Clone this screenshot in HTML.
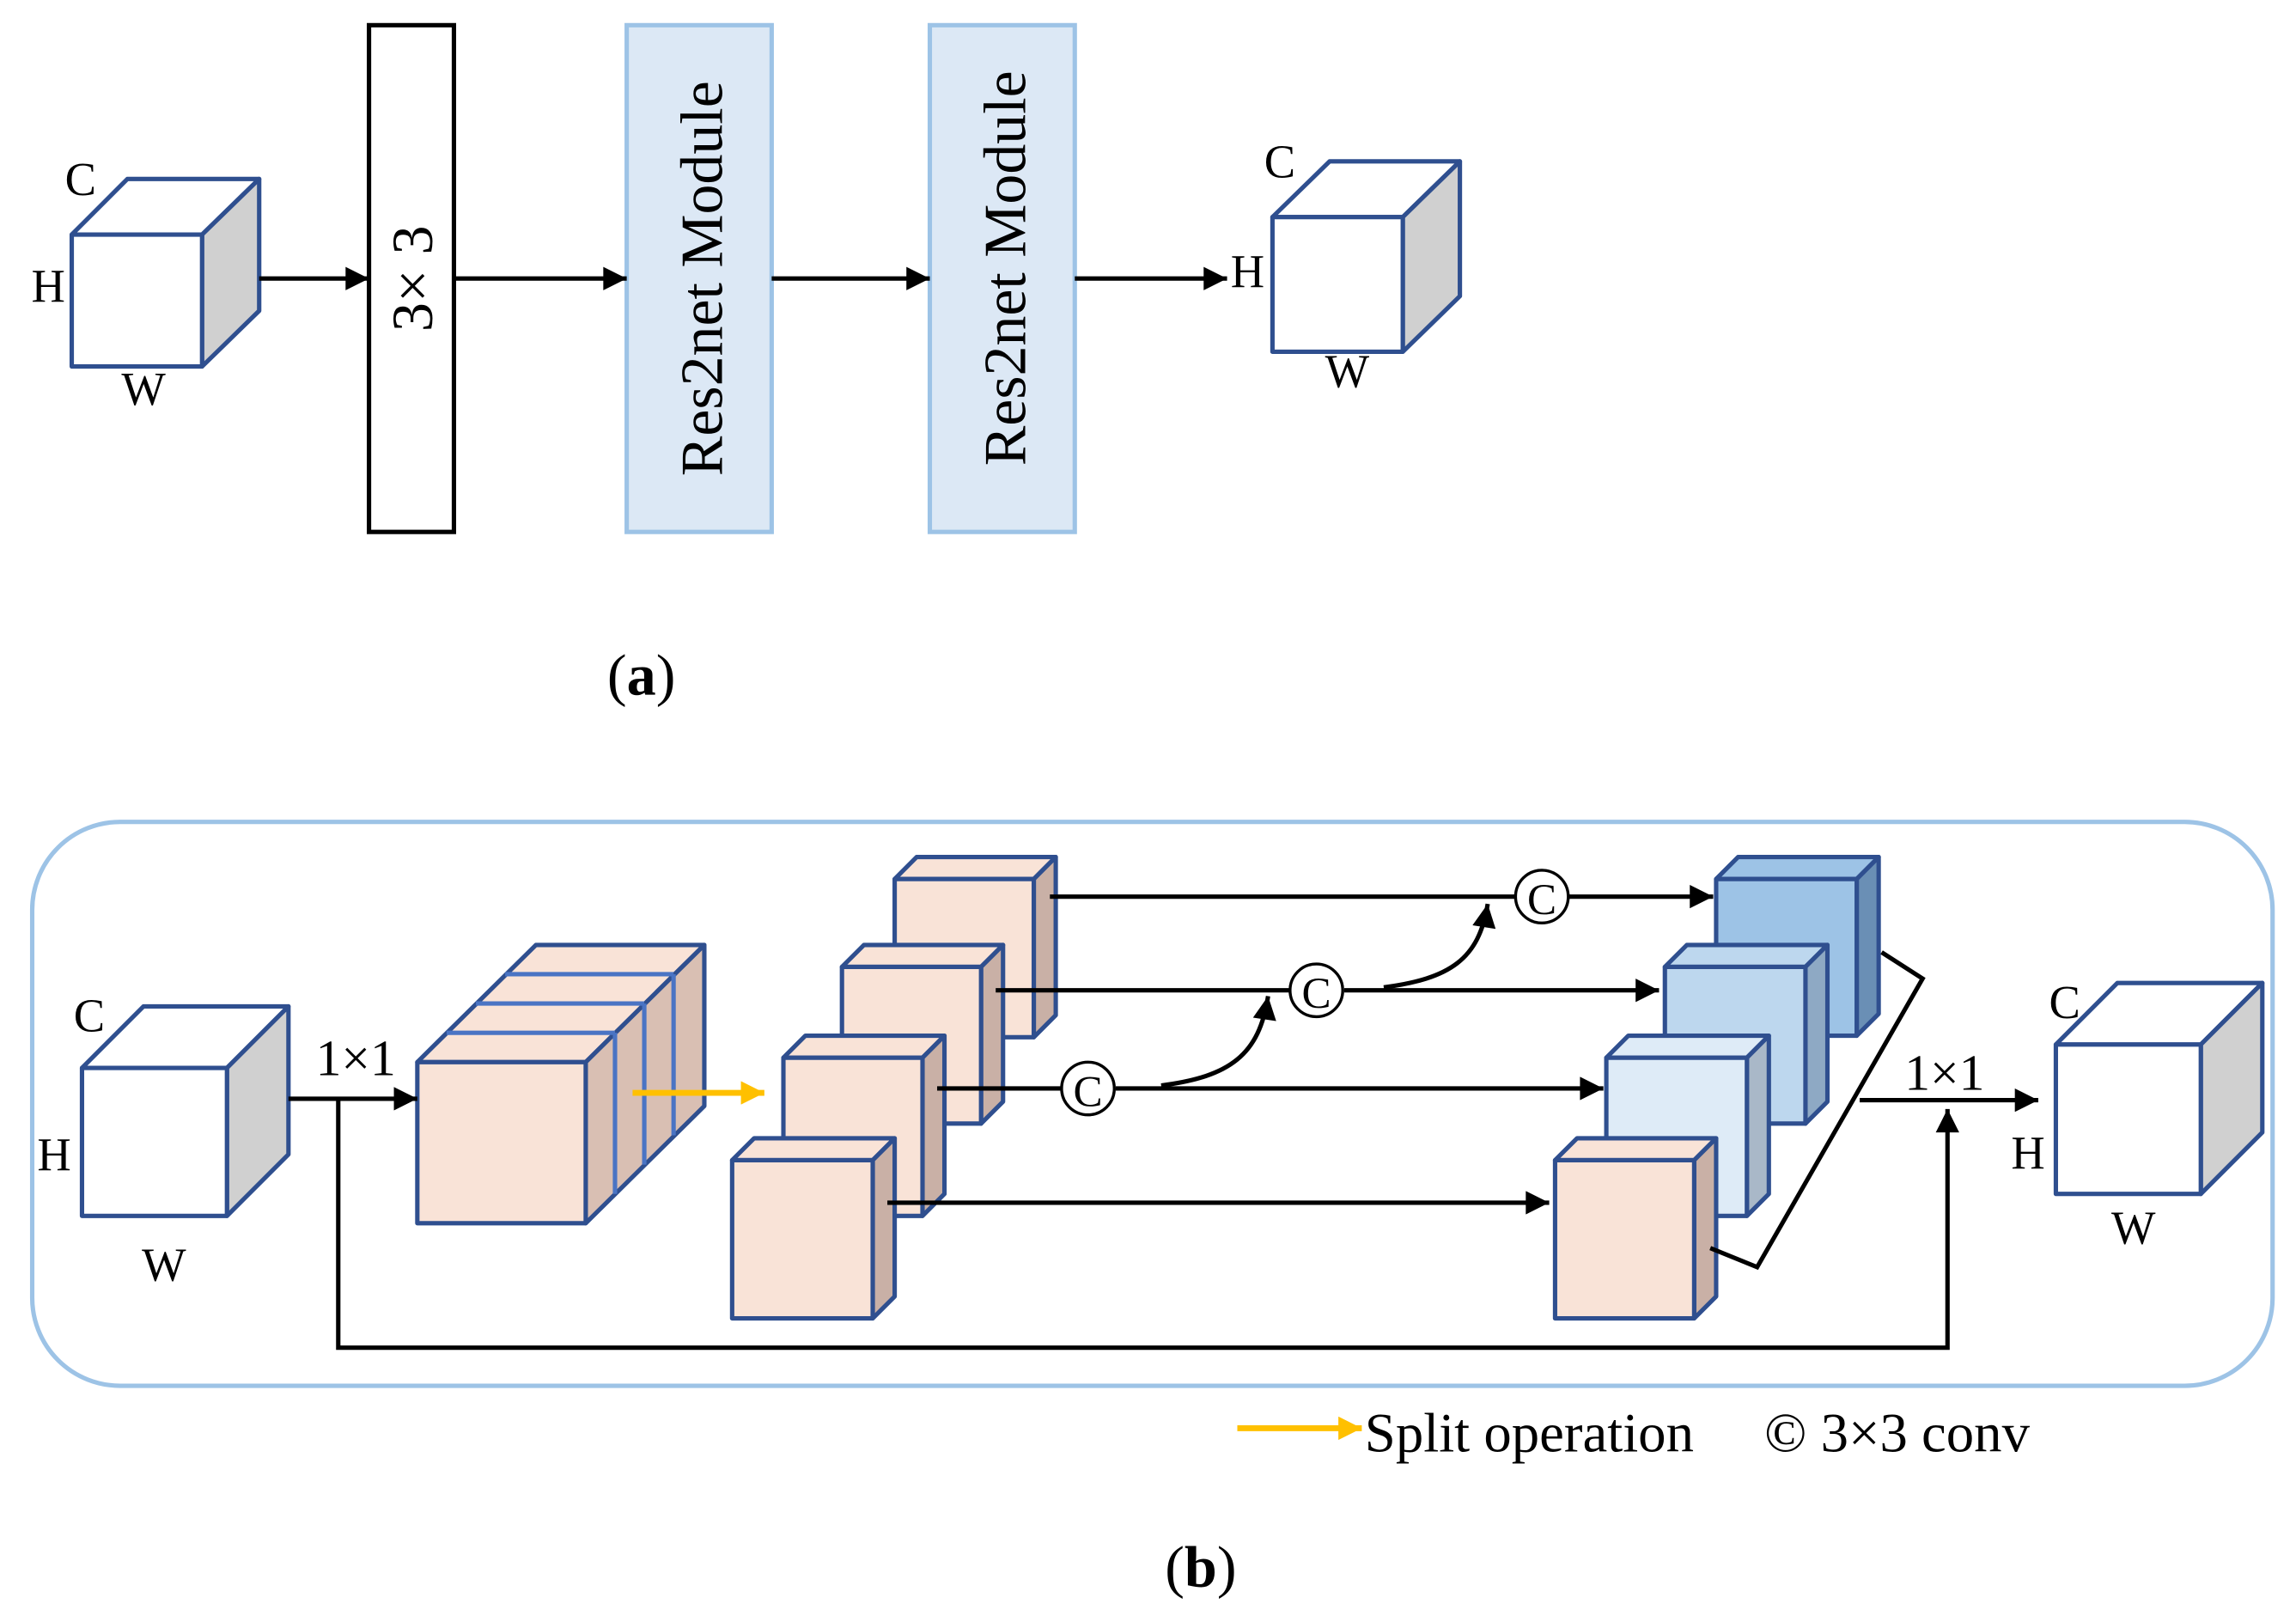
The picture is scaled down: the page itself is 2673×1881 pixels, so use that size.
<!DOCTYPE html>
<html><head><style>
html,body{margin:0;padding:0;background:#fff;}
svg{display:block;}
text{font-family:"Liberation Serif",serif;fill:#000;}
</style></head><body>
<svg width="2673" height="1881" viewBox="0 0 1568 1103" xmlns="http://www.w3.org/2000/svg">
<defs>
<marker id="ab" viewBox="0 0 10 10" markerWidth="20" markerHeight="16" refX="10" refY="5" orient="auto" markerUnits="userSpaceOnUse"><path d="M0,0 L10,5 L0,10 z" fill="#000"/></marker>
<marker id="ay" viewBox="0 0 10 10" markerWidth="20" markerHeight="16" refX="10" refY="5" orient="auto" markerUnits="userSpaceOnUse"><path d="M0,0 L10,5 L0,10 z" fill="#ffc000"/></marker>
</defs>
<g stroke="#2f4f8f" stroke-width="3" stroke-linejoin="round">
<polygon points="49,160 87,122 177,122 138,160" fill="#fff"/>
<polygon points="138,160 177,122 177,212 138,250" fill="#d0d0d0"/>
<rect x="49" y="160" width="89" height="90" fill="#fff"/>
<polygon points="869,148 908,110 997,110 958,148" fill="#fff"/>
<polygon points="958,148 997,110 997,202 958,240" fill="#d0d0d0"/>
<rect x="869" y="148" width="89" height="92" fill="#fff"/>
</g>
<text x="55" y="133" font-size="32" text-anchor="middle">C</text>
<text x="33" y="206" font-size="32" text-anchor="middle">H</text>
<text x="98" y="276" font-size="32" text-anchor="middle">W</text>
<text x="874" y="121" font-size="32" text-anchor="middle">C</text>
<text x="852" y="196" font-size="32" text-anchor="middle">H</text>
<text x="920" y="264" font-size="32" text-anchor="middle">W</text>
<rect x="252" y="17" width="58" height="346" fill="#fff" stroke="#000" stroke-width="3"/>
<text transform="translate(295,190) rotate(-90)" font-size="40" text-anchor="middle">3× 3</text>
<rect x="428" y="17" width="99" height="346" fill="#dce8f5" stroke="#9dc3e6" stroke-width="3"/>
<text transform="translate(493,190) rotate(-90)" font-size="41" text-anchor="middle">Res2net Module</text>
<rect x="635" y="17" width="99" height="346" fill="#dce8f5" stroke="#9dc3e6" stroke-width="3"/>
<text transform="translate(700,183) rotate(-90)" font-size="41" text-anchor="middle">Res2net Module</text>
<g stroke="#000" stroke-width="3" marker-end="url(#ab)">
<line x1="177" y1="190" x2="252" y2="190"/>
<line x1="310" y1="190" x2="428" y2="190"/>
<line x1="527" y1="190" x2="635" y2="190"/>
<line x1="734" y1="190" x2="838" y2="190"/>
</g>
<text x="438" y="474" font-size="40" text-anchor="middle">(<tspan font-weight="bold">a</tspan>)</text>

<rect x="22" y="561" width="1530" height="385" rx="60" fill="none" stroke="#9dc3e6" stroke-width="3"/>
<g stroke="#2f4f8f" stroke-width="3" stroke-linejoin="round">
<polygon points="56,729 98,687 197,687 155,729" fill="#fff"/>
<polygon points="155,729 197,687 197,788 155,830" fill="#d0d0d0"/>
<rect x="56" y="729" width="99" height="101" fill="#fff"/>
<polygon points="1404,713 1446,671 1545,671 1503,713" fill="#fff"/>
<polygon points="1503,713 1545,671 1545,773 1503,815" fill="#d0d0d0"/>
<rect x="1404" y="713" width="99" height="102" fill="#fff"/>
<polygon points="285,725 366,645 481,645 400,725" fill="#f9e3d7"/>
<polygon points="400,725 481,645 481,755 400,835" fill="#d9bfb3"/>
<line x1="305" y1="705" x2="420" y2="705" stroke="#4a74c4"/>
<line x1="325" y1="685" x2="440" y2="685" stroke="#4a74c4"/>
<line x1="345" y1="665" x2="460" y2="665" stroke="#4a74c4"/>
<line x1="420" y1="705" x2="420" y2="815" stroke="#4a74c4"/>
<line x1="440" y1="685" x2="440" y2="795" stroke="#4a74c4"/>
<line x1="460" y1="665" x2="460" y2="775" stroke="#4a74c4"/>
<rect x="285" y="725" width="115" height="110" fill="#f9e3d7"/>
</g>
<line x1="432" y1="746" x2="522" y2="746" stroke="#ffc000" stroke-width="4" marker-end="url(#ay)"/>
<g stroke="#2f4f8f" stroke-width="3" stroke-linejoin="round">
<polygon points="611,600 626,585 721,585 706,600" fill="#f9e3d7"/><polygon points="706,600 721,585 721,693 706,708" fill="#c9b0a6"/><rect x="611" y="600" width="95" height="108" fill="#f9e3d7"/>
<polygon points="575,660 590,645 685,645 670,660" fill="#f9e3d7"/><polygon points="670,660 685,645 685,752 670,767" fill="#c9b0a6"/><rect x="575" y="660" width="95" height="107" fill="#f9e3d7"/>
<polygon points="535,722 550,707 645,707 630,722" fill="#f9e3d7"/><polygon points="630,722 645,707 645,815 630,830" fill="#c9b0a6"/><rect x="535" y="722" width="95" height="108" fill="#f9e3d7"/>
<polygon points="500,792 515,777 611,777 596,792" fill="#f9e3d7"/><polygon points="596,792 611,777 611,885 596,900" fill="#c9b0a6"/><rect x="500" y="792" width="96" height="108" fill="#f9e3d7"/>
<polygon points="1172,600 1187,585 1283,585 1268,600" fill="#9dc3e6"/><polygon points="1268,600 1283,585 1283,692 1268,707" fill="#6a8fb5"/><rect x="1172" y="600" width="96" height="107" fill="#9dc3e6"/>
<polygon points="1137,660 1152,645 1248,645 1233,660" fill="#bdd7ee"/><polygon points="1233,660 1248,645 1248,752 1233,767" fill="#8ea9c4"/><rect x="1137" y="660" width="96" height="107" fill="#bdd7ee"/>
<polygon points="1097,722 1112,707 1208,707 1193,722" fill="#deebf7"/><polygon points="1193,722 1208,707 1208,815 1193,830" fill="#a9b8c8"/><rect x="1097" y="722" width="96" height="108" fill="#deebf7"/>
<polygon points="1062,792 1077,777 1172,777 1157,792" fill="#f9e3d7"/><polygon points="1157,792 1172,777 1172,885 1157,900" fill="#c9b0a6"/><rect x="1062" y="792" width="95" height="108" fill="#f9e3d7"/>
</g>
<g stroke="#000" stroke-width="3" fill="none">
<line x1="717" y1="612" x2="1035" y2="612"/>
<line x1="1071" y1="612" x2="1170" y2="612" marker-end="url(#ab)"/>
<line x1="680" y1="676" x2="881" y2="676"/>
<line x1="918" y1="676" x2="1133" y2="676" marker-end="url(#ab)"/>
<line x1="640" y1="743" x2="725" y2="743"/>
<line x1="762" y1="743" x2="1095" y2="743" marker-end="url(#ab)"/>
<line x1="606" y1="821" x2="1058" y2="821" marker-end="url(#ab)"/>
<path d="M793,741 C840,735 860,720 866,680" marker-end="url(#ab)"/>
<path d="M945,674 C990,668 1010,655 1016,617" marker-end="url(#ab)"/>
<polyline points="1285,650 1313,668 1200,865 1168,852"/>
<line x1="1270" y1="751" x2="1392" y2="751" marker-end="url(#ab)"/>
<line x1="197" y1="750" x2="285" y2="750" marker-end="url(#ab)"/>
<polyline points="231,750 231,920 1330,920 1330,757" marker-end="url(#ab)"/>
<circle cx="1053" cy="612" r="18" stroke-width="2"/>
<circle cx="899" cy="676" r="18" stroke-width="2"/>
<circle cx="743" cy="743" r="18" stroke-width="2"/>
</g>
<text x="1053" y="624" font-size="30" text-anchor="middle">C</text>
<text x="899" y="688" font-size="30" text-anchor="middle">C</text>
<text x="743" y="755" font-size="30" text-anchor="middle">C</text>
<text x="243" y="734" font-size="35" text-anchor="middle">1×1</text>
<text x="1328" y="744" font-size="35" text-anchor="middle">1×1</text>
<text x="61" y="704" font-size="32" text-anchor="middle">C</text>
<text x="37" y="799" font-size="32" text-anchor="middle">H</text>
<text x="112" y="874" font-size="32" text-anchor="middle">W</text>
<text x="1410" y="695" font-size="32" text-anchor="middle">C</text>
<text x="1385" y="798" font-size="32" text-anchor="middle">H</text>
<text x="1457" y="849" font-size="32" text-anchor="middle">W</text>
<line x1="845" y1="975" x2="930" y2="975" stroke="#ffc000" stroke-width="4" marker-end="url(#ay)"/>
<text x="932" y="991" font-size="38">Split operation</text>
<text x="1205" y="991" font-size="38">© 3×3 conv</text>
<text x="820" y="1083" font-size="40" text-anchor="middle">(<tspan font-weight="bold">b</tspan>)</text>
</svg>
</body></html>
